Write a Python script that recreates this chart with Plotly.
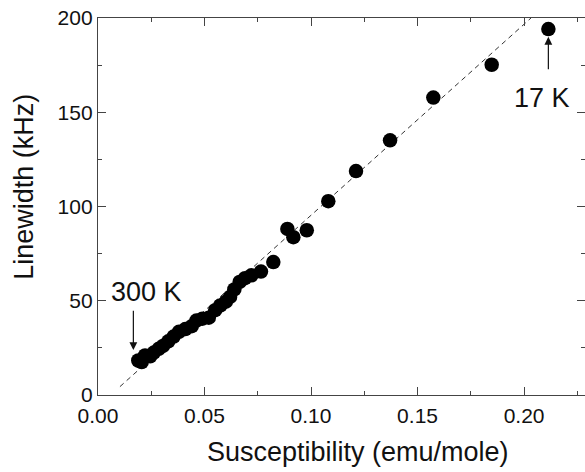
import plotly.graph_objects as go

# Data
susceptibility = [0.0189, 0.0205, 0.0221, 0.0245, 0.0262, 0.0285, 0.0305, 0.0330, 0.0355,
                  0.0380, 0.0410, 0.0440, 0.0462, 0.0490, 0.0520, 0.0550, 0.0575, 0.0600,
                  0.0620, 0.0640, 0.0665, 0.0690, 0.0720, 0.0765, 0.0823, 0.0889, 0.0917,
                  0.0980, 0.1081, 0.1211, 0.1371, 0.1574, 0.1848, 0.2114]
linewidth = [18.3, 17.5, 21.0, 20.5, 22.5, 24.5, 26.0, 28.5, 31.0,
             33.5, 35.0, 36.5, 39.5, 40.5, 41.0, 45.0, 47.5, 49.5,
             52.0, 56.0, 60.0, 62.0, 63.5, 65.5, 70.5, 88.1, 83.7,
             87.4, 102.8, 118.8, 135.1, 157.8, 175.2, 194.1]

fit_x = [0.0103, 0.2033]
fit_slope = 1013.5
fit_intercept = -6.0
fit_y = [fit_slope * v + fit_intercept for v in fit_x]

x_ticks = [0.00, 0.05, 0.10, 0.15, 0.20]
x_ticklabels = ["0.00", "0.05", "0.10", "0.15", "0.20"]
y_ticks = [0, 50, 100, 150, 200]

x_title = "Susceptibility (emu/mole)"
y_title = "Linewidth (kHz)"

label_300K = {"text": "300 K", "x": 0.0166, "y": 23.9, "tail_y": 45.5}
label_17K = {"text": "17 K", "x": 0.2114, "y": 190.0, "tail_y": 172.0}

FONT = "Liberation Sans, Arial, sans-serif"

fig = go.Figure()
fig.add_trace(go.Scatter(x=fit_x, y=fit_y, mode="lines",
                         line=dict(color="#333333", width=1, dash="5px,4px"),
                         showlegend=False, hoverinfo="skip"))
fig.add_trace(go.Scatter(x=susceptibility, y=linewidth, mode="markers",
                         marker=dict(color="black", size=14.5, line=dict(width=0)),
                         showlegend=False))
# invisible trace on the right-hand tick axis
fig.add_trace(go.Scatter(x=[None], y=[None], yaxis="y2", showlegend=False,
                         hoverinfo="skip"))

for lab, text_pos in ((label_300K, (0.0226, 54.5)), (label_17K, (0.2082, 157.5))):
    fig.add_annotation(x=lab["x"], y=lab["y"], ax=lab["x"], ay=lab["tail_y"],
                       axref="x", ayref="y", xref="x", yref="y", text="",
                       showarrow=True, arrowhead=2, arrowsize=1.3, arrowwidth=1.2,
                       arrowcolor="#111111")
    fig.add_annotation(x=text_pos[0], y=text_pos[1], xref="x", yref="y",
                       text=lab["text"], showarrow=False,
                       font=dict(family=FONT, size=27, color="#111111"))

# axis titles (the original plot area is cropped on the right, so titles
# are positioned as in the reference rather than centred on the visible area)
fig.add_annotation(x=0.534, y=-0.151, xref="paper", yref="paper",
                   xanchor="center", yanchor="middle", showarrow=False,
                   text=x_title, font=dict(family=FONT, size=27, color="#111111"))
fig.add_annotation(x=-0.152, y=0.552, xref="paper", yref="paper",
                   xanchor="center", yanchor="middle", showarrow=False,
                   textangle=-90,
                   text=y_title, font=dict(family=FONT, size=27, color="#111111"))

axis_common = dict(showgrid=False, zeroline=False, ticks="inside",
                   linecolor="#444444", linewidth=1.3, tickcolor="#444444",
                   tickwidth=1.3, ticklen=8,
                   tickfont=dict(family=FONT, size=21, color="#111111"))

fig.update_layout(
    width=585, height=472,
    margin=dict(l=98, r=0, t=18, b=77),
    plot_bgcolor="white", paper_bgcolor="white",
    xaxis=dict(range=[0, 0.2286], tickvals=x_ticks, ticktext=x_ticklabels,
               showline=True, mirror="ticks", ticklabelstandoff=2,
               minor=dict(dtick=0.025, tick0=0, ticks="inside", ticklen=4,
                          tickcolor="#444444", tickwidth=1.3),
               **axis_common),
    yaxis=dict(range=[0, 200], tickvals=y_ticks, showline=True, mirror=False,
               minor=dict(dtick=25, tick0=0, ticks="inside", ticklen=4,
                          tickcolor="#444444", tickwidth=1.3),
               **axis_common),
    yaxis2=dict(range=[0, 200], overlaying="y", side="right", anchor="x",
                showline=False, showgrid=False, zeroline=False,
                tickvals=y_ticks, showticklabels=False, ticks="inside",
                ticklen=8, tickcolor="#444444", tickwidth=1.3,
                minor=dict(dtick=25, tick0=0, ticks="inside", ticklen=4,
                           tickcolor="#444444", tickwidth=1.3)),
)

fig.write_html("out.html")
